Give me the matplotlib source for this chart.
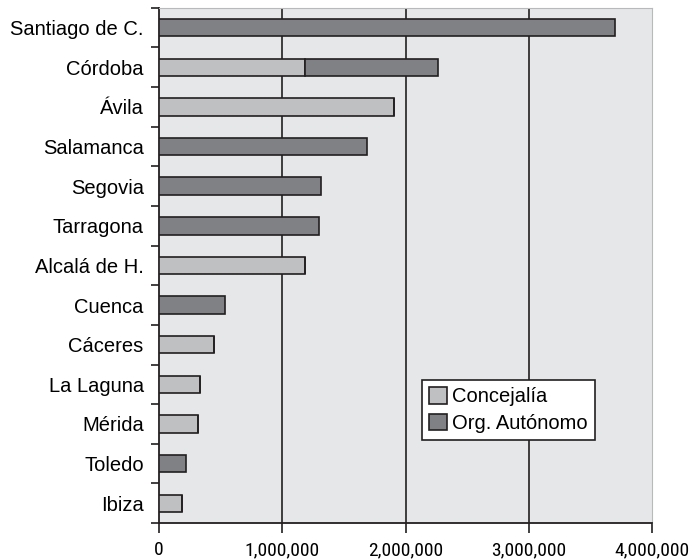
import matplotlib
matplotlib.use("Agg")
import matplotlib.pyplot as plt
import numpy as np
from matplotlib.ticker import FuncFormatter, FixedLocator
from matplotlib import font_manager

plt.rcParams['font.family'] = ['Liberation Sans', 'DejaVu Sans']

cities = ["Santiago de C.", "Córdoba", "Ávila", "Salamanca", "Segovia", "Tarragona",
          "Alcalá de H.", "Cuenca", "Cáceres", "La Laguna", "Mérida", "Toledo", "Ibiza"]
concejalia = [0, 1185000, 1910000, 0, 0, 0, 1185000, 0, 446000, 334000, 318000, 0, 185000]
org_autonomo = [3700000, 1075000, 0, 1685000, 1315000, 1300000, 0, 535000, 0, 0, 0, 220000, 0]
xticks = [0, 1000000, 2000000, 3000000, 4000000]

light = "#bfc0c2"
dark = "#808184"
bg = "#e6e7e8"
edge = "#231f20"

names = {f.name for f in font_manager.fontManager.ttflist}
cands = ['Liberation Sans Narrow', 'Roboto Condensed', 'Open Sans Condensed',
         'DejaVu Sans Condensed']
narrow = None
for c in cands:
    if c in names:
        narrow = c
        break
if narrow is None:
    narrow = 'Liberation Sans'
    xsize = 13
else:
    xsize = 14

fig = plt.figure(figsize=(6.89, 5.6), dpi=100)
ax = fig.add_axes([0.2308, 0.066, 0.7155, 0.920])
ax.set_facecolor(bg)

y = np.arange(len(cities))
h = 0.44
ax.barh(y, concejalia, height=h, color=light, edgecolor=edge, linewidth=1.2,
        label="Concejalía", zorder=3)
ax.barh(y, org_autonomo, left=concejalia, height=h, color=dark, edgecolor=edge,
        linewidth=1.2, label="Org. Autónomo", zorder=3)

ax.set_ylim(len(cities) - 0.5, -0.5)
ax.set_xlim(0, 4000000)
ax.set_yticks(y)
ax.set_yticklabels(cities, fontsize=14.5)
ax.tick_params(axis='y', which='major', length=0, pad=11)
ax.yaxis.set_minor_locator(FixedLocator(np.arange(-0.5, len(cities), 1.0)))
ax.tick_params(axis='y', which='minor', length=6, width=1.2, color=edge, direction='out')

ax.set_xticks(xticks)
ax.xaxis.set_major_formatter(FuncFormatter(lambda v, p: f"{int(v):,}"))
ax.tick_params(axis='x', length=7, width=1.2, color=edge, direction='out', pad=6)
for lab in ax.get_xticklabels():
    lab.set_fontfamily([narrow, 'DejaVu Sans'])
    lab.set_fontsize(xsize)

for v in xticks[1:-1]:
    ax.axvline(v, color=edge, linewidth=1.2, zorder=1)

ax.spines['left'].set_color(edge)
ax.spines['left'].set_linewidth(1.3)
ax.spines['bottom'].set_color(edge)
ax.spines['bottom'].set_linewidth(1.3)
ax.spines['top'].set_color("#b8b9bb")
ax.spines['right'].set_color("#b8b9bb")

leg = ax.legend(loc='upper left', bbox_to_anchor=(0.533, 0.278), fontsize=14.5,
                frameon=True, fancybox=False, edgecolor=edge, framealpha=1,
                handlelength=0.85, handleheight=0.85, handletextpad=0.25,
                borderpad=0.38, labelspacing=0.35, borderaxespad=0)
leg.get_frame().set_linewidth(1.2)

fig.savefig("out.png", dpi=100)
